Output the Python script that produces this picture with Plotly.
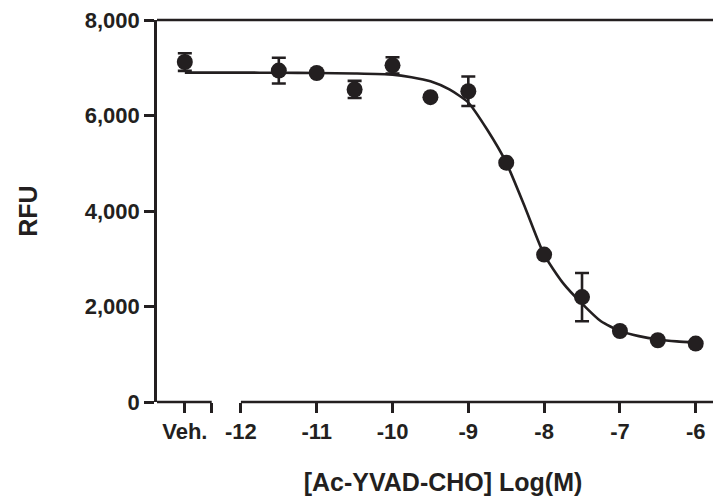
import plotly.graph_objects as go

# ---- data ----
x_tick_labels = ["Veh.", "-12", "-11", "-10", "-9", "-8", "-7", "-6"]
x_tick_values = [-12, -11, -10, -9, -8, -7, -6]

veh_rfu = 7120
veh_err = 185

log_conc = [-11.5, -11, -10.5, -10, -9.5, -9, -8.5, -8, -7.5, -7, -6.5, -6]
rfu = [6940, 6890, 6545, 7050, 6383, 6508, 5013, 3087, 2197, 1487, 1293, 1224]
rfu_err = [270, None, 180, 170, None, 310, None, None, 505, None, None, None]

fit_log_conc = [-12, -11.5, -11, -10.5, -10, -9.75, -9.5, -9.25, -9, -8.75, -8.5,
                -8.25, -8, -7.75, -7.5, -7.25, -7, -6.75, -6.5, -6.25, -6]
fit_rfu = [6898, 6895, 6890, 6880, 6855, 6800, 6715, 6545, 6270, 5700, 5013,
           4070, 3087, 2490, 2060, 1690, 1490, 1380, 1310, 1270, 1250]

y_tick_values = [0, 2000, 4000, 6000, 8000]

# ---- layout constants (broken axis geometry) ----
X_MIN, X_MAX = -13.107, -5.561
VEH_X = -12.74          # where the vehicle group sits left of the break
SEG_END = -12.385       # end of the short left axis segment
INK = "#231f20"
LW = 2.6
FONT = dict(family="Liberation Sans, Arial, sans-serif", size=22, color=INK, weight=700)

fig = go.Figure()

# fitted curve (starts at the vehicle point and runs across the break)
fig.add_trace(go.Scatter(
    x=[VEH_X] + fit_log_conc, y=[fit_rfu[0]] + fit_rfu,
    mode="lines", line=dict(color=INK, width=LW, shape="spline", smoothing=0.6),
    hoverinfo="skip", showlegend=False))

# vehicle point
fig.add_trace(go.Scatter(
    x=[VEH_X], y=[veh_rfu], mode="markers",
    marker=dict(color=INK, size=16),
    error_y=dict(type="data", array=[veh_err], color=INK, thickness=LW, width=7),
    showlegend=False))

# dose points
fig.add_trace(go.Scatter(
    x=log_conc, y=rfu, mode="markers",
    marker=dict(color=INK, size=16),
    error_y=dict(type="data", array=rfu_err, color=INK, thickness=LW, width=7),
    showlegend=False))

fig.update_layout(
    width=721, height=502,
    margin=dict(l=149, r=0, t=10, b=108),
    paper_bgcolor="white", plot_bgcolor="white",
    font=FONT,
    xaxis=dict(
        range=[X_MIN, X_MAX], showline=False, showgrid=False, zeroline=False,
        tickmode="array",
        tickvals=[VEH_X, SEG_END] + x_tick_values,
        ticktext=[x_tick_labels[0], ""] + x_tick_labels[1:],
        ticks="outside", ticklen=10, tickwidth=LW, tickcolor=INK,
        tickfont=FONT,
        title=dict(text="[Ac-YVAD-CHO] Log(M)", font=dict(FONT, size=25), standoff=30),
    ),
    yaxis=dict(
        range=[0, 8000], showline=True, linewidth=LW, linecolor=INK,
        showgrid=False, zeroline=False,
        tickmode="array", tickvals=y_tick_values, tickformat=",",
        ticks="outside", ticklen=10, tickwidth=LW, tickcolor=INK,
        tickfont=FONT, ticklabeloverflow="allow",
        title=dict(text="RFU", font=dict(FONT, size=25), standoff=40),
    ),
    shapes=[
        # broken x axis: short vehicle segment and the main log segment
        dict(type="line", xref="x", yref="paper", x0=X_MIN, x1=SEG_END, y0=0, y1=0,
             line=dict(color=INK, width=LW)),
        dict(type="line", xref="x", yref="paper", x0=x_tick_values[0], x1=X_MAX, y0=0, y1=0,
             line=dict(color=INK, width=LW)),
        # top frame line at the 8,000 level
        dict(type="line", xref="paper", yref="paper", x0=0, x1=1, y0=1, y1=1,
             line=dict(color=INK, width=LW)),
    ],
)

fig.write_html("out.html")
